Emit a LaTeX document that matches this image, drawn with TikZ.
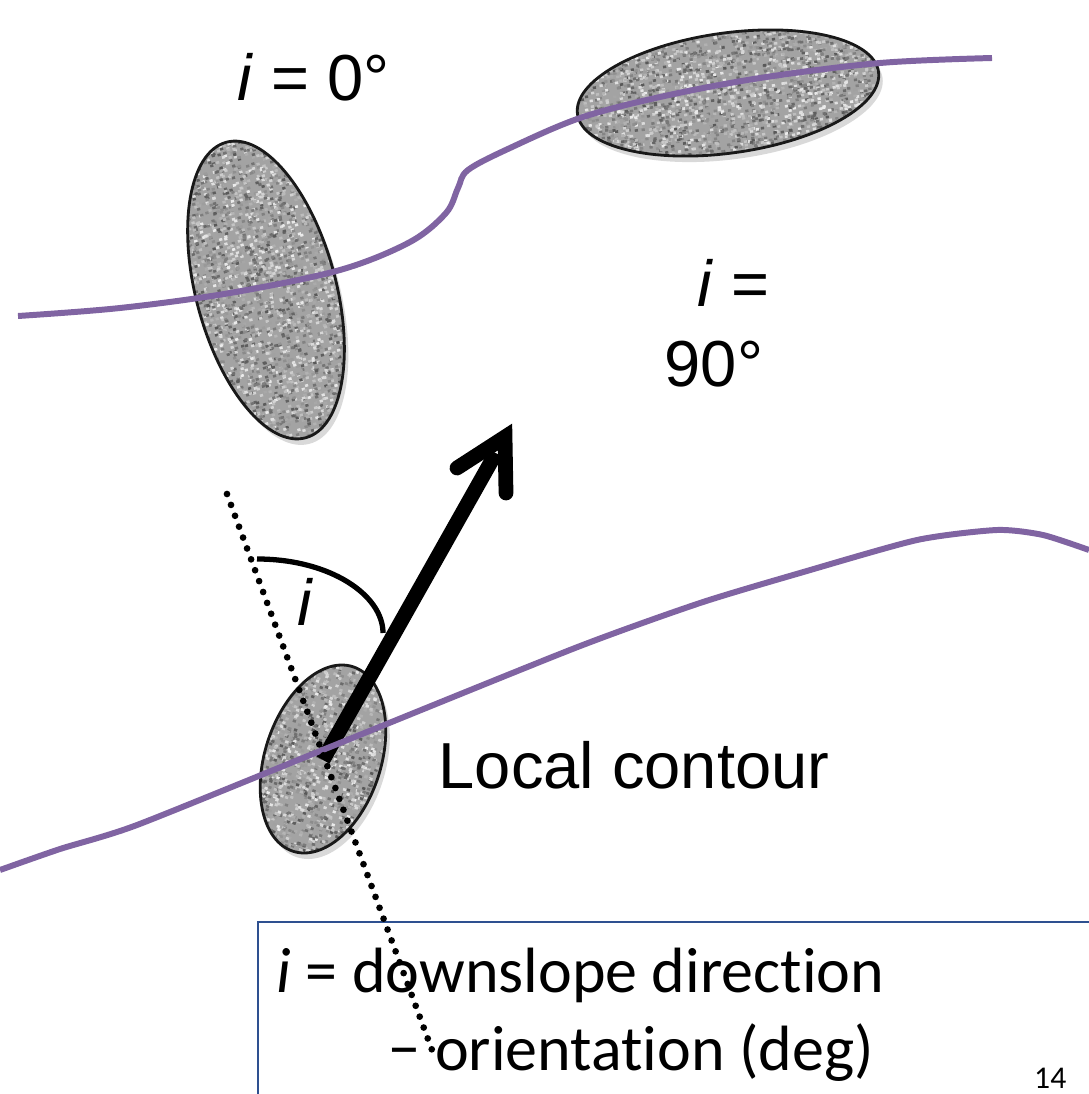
\documentclass[tikz,border=0pt]{standalone}
\usepackage{fontspec}
\setmainfont{Liberation Sans}
\newfontfamily\calibfont[Ligatures={NoCommon}]{Carlito}
\usetikzlibrary{calc}
\definecolor{contourpurple}{HTML}{8064A2}
\definecolor{boxblue}{HTML}{2E5090}
\tikzset{
  blobbase/.style={fill=black!36},
  blobedge/.style={draw=black!90, line width=0.8pt},
  contour/.style={draw=contourpurple, line width=1.7pt},
  dirarrow/.style={draw=black, line width=4.2pt},
  dotline/.style={draw=black, line width=1.9pt, line cap=round, dash pattern=on 0pt off 3.3pt},
  anglearc/.style={draw=black, line width=1.5pt},
  biglabel/.style={font=\fontsize{18.5pt}{22pt}\selectfont, inner sep=0pt},
  boxtext/.style={font=\calibfont\fontsize{18.2pt}{22pt}\selectfont, inner sep=0pt},
}
\newcommand{\texturedblob}[6]{%
  \begin{scope}[shift={(#1+4,#2+6)},rotate=#5]
    \fill[black,opacity=.15] (0,0) ellipse ({#3} and {#4});
  \end{scope}
  \begin{scope}[shift={(#1,#2)},rotate=#5]
    \clip (0,0) ellipse ({#3} and {#4});
    \fill[blobbase] (-#3,-#4) rectangle (#3,#4);
    \foreach \k in {1,...,#6}{%
      \pgfmathsetmacro{\nx}{(2*rnd-1)*#3}%
      \pgfmathsetmacro{\ny}{(2*rnd-1)*#4}%
      \pgfmathtruncatemacro{\ng}{8+58*rnd}%
      \fill[black!\ng] (\nx,\ny) rectangle ++(3.2,2.6);
    }
  \end{scope}
  \begin{scope}[shift={(#1,#2)},rotate=#5]
    \draw[blobedge] (0,0) ellipse ({#3} and {#4});
  \end{scope}
}
\begin{document}
\begin{tikzpicture}[x=0.01cm,y=-0.01cm]
\useasboundingbox (0,0) rectangle (1089,1094);
\pgfmathsetseed{7}

% textured ellipses
\texturedblob{266}{290}{70}{153}{15}{2600}
\texturedblob{728}{93}{152}{60}{8}{2600}
\texturedblob{323}{759}{58}{97}{-18}{1400}

% top contour
\draw[contour] plot[smooth, tension=0.55] coordinates {
  (18,316) (120,308) (230,293) (340,270) (410,242) (446,213) (458,188)
  (468,170) (510,148) (580,118) (660,97) (760,78) (880,63) (992,58)};

% arrow
\coordinate (c3) at (323,760);
\coordinate (tip) at (505,437);
\coordinate (hl) at (457,468);
\coordinate (hr) at (506,493);
\draw[dirarrow, line cap=butt] (c3) -- ($(c3)!0.95!(tip)$);
\draw[dirarrow, line cap=round, line join=miter] (hl) -- (tip) -- (hr);

% bottom contour
\draw[contour] plot[smooth, tension=0.4] coordinates {
  (0,870) (60,849) (137,825) (330,747) (575,648) (700,603) (800,573)
  (917,540) (997,530) (1043,535) (1089,550)};

% angle arc
\coordinate (a1) at (257,559);
\coordinate (a2) at (383,633);
\draw[anglearc] (a1) .. controls (330,559) and (383,595) .. (a2);
\node[biglabel, anchor=base west] (ilab) at (297,625) {\textit{i}};

% labels
\node[biglabel, anchor=base west] (zero) at (237,101) {\textit{i} = 0°};
\node[biglabel, anchor=base west] (ninA) at (697,307) {\textit{i} =};
\node[biglabel, anchor=base west] (ninB) at (664,386) {90°};
\node[biglabel, anchor=base west] (local) at (438,788) {Local contour};

% box
\coordinate (bx1) at (258,1100);
\coordinate (bx2) at (258,922);
\coordinate (bx3) at (1100,922);
\draw[boxblue, line width=0.7pt] (bx1) -- (bx2) -- (bx3);
\node[boxtext, anchor=base west] (t1) at (276,992) {\textit{i} = downslope direction};
\node[boxtext, anchor=base west] (t2) at (388,1070) {− orientation (deg)};
\node[font=\calibfont\fontsize{9pt}{11pt}\selectfont, inner sep=0pt, anchor=base east] (pg) at (1067,1088) {14};

% dotted reference line
\coordinate (d1) at (227,494);
\coordinate (d2) at (432,1050);
\draw[dotline] (d1) -- (d2);
\end{tikzpicture}
\end{document}
